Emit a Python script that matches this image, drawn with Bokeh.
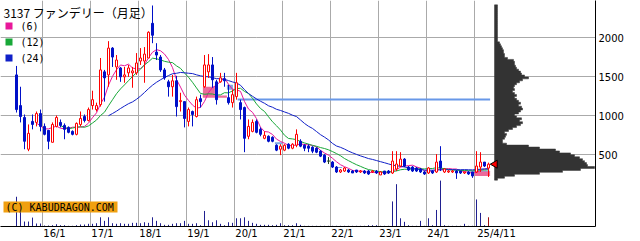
import numpy as np
import pandas as pd
from bokeh.plotting import figure
from bokeh.models import Range1d, FixedTicker, Label, BoxAnnotation
from bokeh.embed import file_html
from bokeh.resources import INLINE

# ---- data (monthly, from 2015/6 to 2025/4) ----
first_month = "2015-06"
opens = [1526,1132,979,572,929,916,1030,865,814,661,865,916,878,852,801,763,890,992,941,1132,
         1081,1145,1565,1526,1870,1628,1615,1501,1552,1552,1552,1704,1704,1743,2188,1819,1755,1590,1437,1374,
         1450,1183,1183,929,1056,992,1221,1374,1565,1654,1437,1437,1476,1234,1170,1247,1170,1107,738,801,
         929,827,712,738,725,623,572,560,636,585,623,674,623,611,598,585,547,496,420,407,
         343,280,292,305,292,305,280,292,292,280,292,242,292,292,267,318,356,445,343,343,
         331,318,280,267,292,280,420,280,280,280,292,292,267,280,280,280,343,407,330]
highs = [1641,1374,1018,890,1018,1056,1081,903,814,916,1005,954,903,865,814,916,1056,1018,1107,1323,
         1170,1743,1590,1959,1883,1781,1628,1628,1654,1628,1806,1870,1883,2086,2417,1933,1781,1615,1463,1526,
         1514,1297,1183,1107,1068,1247,1272,1781,1793,1755,1463,1552,1552,1399,1336,1552,1208,1119,954,954,
         954,852,801,750,738,636,636,636,649,649,827,700,636,636,611,598,560,509,471,420,
         356,318,343,318,305,305,305,305,305,305,305,292,292,305,547,547,534,458,356,356,
         343,331,292,343,305,509,611,331,305,305,305,292,280,292,280,547,534,407,400]
lows = [1043,916,572,547,827,865,801,750,572,661,852,852,700,776,750,750,865,916,929,1081,
        1056,1119,1183,1374,1628,1463,1437,1425,1501,1361,1526,1654,1425,1743,1933,1717,1565,1463,1247,1247,
        992,1056,852,865,865,979,1107,1361,1488,1361,1145,1425,1374,1145,1107,1208,954,534,700,789,
        776,738,700,661,661,547,496,547,572,572,598,598,547,534,521,521,471,394,382,331,
        267,267,280,267,267,267,267,254,242,267,254,242,242,254,254,292,343,343,292,280,
        280,267,242,254,254,267,292,267,267,267,191,254,254,242,204,267,280,343,216]
closes = [1081,992,674,776,890,1030,865,763,674,890,979,878,827,789,763,903,967,941,1081,1208,
          1132,1590,1488,1870,1755,1717,1501,1526,1615,1577,1679,1743,1793,2073,2035,1781,1590,1488,1374,1450,
          1119,1196,967,1081,1018,1208,1183,1654,1654,1463,1208,1488,1450,1170,1272,1425,1081,712,865,916,
          789,763,750,674,674,560,611,623,585,636,763,611,585,585,547,534,483,407,420,343,
          280,305,331,280,267,280,292,267,254,292,267,280,254,267,420,382,445,356,305,292,
          292,280,254,331,267,407,331,318,292,292,267,267,280,254,229,356,407,356,380]
volumes = [30,22,5,5,9,3,3,1,1,1.3,2.3,1.3,1.3,0.7,0.7,1.3,2,2,2.7,2.7,
           3.3,9.3,5.7,9.3,3.3,2.7,3.3,2.7,2.7,3.7,3.7,3.3,4.3,3.7,9.3,5.7,3.3,1.7,1.7,2.7,
           3.3,3.3,5.7,2.7,2.7,3.3,1.3,15.7,6.3,4.3,6.3,2.7,1.3,4.3,3.7,8.3,8.3,9.3,5.7,3.7,
           2.7,1.7,1.7,1.7,1.3,1.7,3.3,1.3,1.3,1.3,3.3,1.7,0.7,0.7,0.7,0.7,0.7,0.7,0.7,0.7,
           0.7,0.7,0.7,0.7,0.7,0.7,0.7,0.7,1.3,1.3,1.3,0.7,0.7,0.7,25.3,42.7,8.3,4.7,1.3,0.7,
           0.7,5.7,0.7,8.3,1.3,16.7,46.3,1.3,0.7,0.7,0.7,0.7,2.7,0.7,0.7,27.3,13.7,1.3,9.3]

# volume-by-price profile (25-yen bins starting at 175)
vp_vol = [3,10,20,45,68,86,100,93,92,90,
          88,85,80,76,65,61,45,34,12,8,
          8,10,11,12,10,14,18,22,26,28,
          25,27,22,20,24,26,28,27,24,26,
          24,22,20,22,20,18,20,19,20,22,
          25,28,34,30,27,26,24,22,21,20,
          20,19,13,10,10,9,9,8,7,6,
          5,3,3,3,3,3,3,3,3,3,3,3,3,3,3,3,3,3,3,3]

year_labels = ["16/1","17/1","18/1","19/1","20/1","21/1","22/1","23/1","24/1","25/4/11"]
price_ticks = [500, 1000, 1500, 2000]
ma_periods = [6, 12, 24]
ma_colors = ["#e8189a", "#18a838", "#1020c8"]

# gap windows / marks: (left month idx, right month idx, bottom price, top price, colour)
gap_left = [46.6, 46.6, 52.6, 64.6, 79.6, 114.6, 113.4]
gap_right = [49.6, 52.6, 54.1, 66.4, 81.4, 118.4, 118.4]
gap_bottom = [1247, 1234, 1336, 636, 331, 229, 285]
gap_top = [1374, 1260, 1399, 661, 343, 292, 296]
gap_color = ["#ec6a9a", "#ec6a9a", "#80a8e4", "#80a8e4", "#80a8e4", "#ec6a9a", "#80a8e4"]

res_price = 1210
res_from, res_to = 55.3, 118.4

# ---- build ----
n = len(opens)
months = pd.period_range(first_month, periods=n, freq="M")
x = np.arange(n)
o = np.array(opens, float); h = np.array(highs, float)
l = np.array(lows, float); c = np.array(closes, float)

p = figure(width=640, height=241, x_range=Range1d(-4.0, 144.75),
           y_range=Range1d(-420, 2481), output_backend="svg", toolbar_location=None,
           y_axis_location="right", min_border_left=0, min_border_top=0,
           min_border_right=45, min_border_bottom=13)
p.outline_line_color = None
p.background_fill_color = "white"
p.extra_y_ranges = {"vol": Range1d(0, 228)}
p.extra_x_ranges = {"vp": Range1d(-494, 101)}

grid_pos = [6.5 + 12 * k for k in range(10)]
tick_pos = [g + 3.0 for g in grid_pos[:-1]] + [grid_pos[-1] + 5.5]
p.xaxis.ticker = FixedTicker(ticks=tick_pos)
p.xaxis.major_label_overrides = {t: lab for t, lab in zip(tick_pos, year_labels)}
p.xgrid.ticker = FixedTicker(ticks=grid_pos)
p.yaxis.ticker = FixedTicker(ticks=price_ticks)
p.ygrid.ticker = FixedTicker(ticks=price_ticks)
for g in (p.xgrid, p.ygrid):
    g.grid_line_color = "#aaaaaa"
    g.grid_line_width = 1
for ax in (p.xaxis, p.yaxis):
    ax.axis_line_color = "black"
    ax.major_tick_out = 0
    ax.major_tick_in = 0
    ax.minor_tick_out = 0
    ax.minor_tick_in = 0
    ax.major_label_text_font = "DejaVu Sans"
    ax.major_label_text_font_size = "10px"
    ax.major_label_text_color = "black"
p.xaxis.major_label_standoff = 1
p.yaxis.major_label_standoff = 3

# gap boxes
p.quad(left=gap_left, right=gap_right, bottom=gap_bottom, top=gap_top,
       fill_color=gap_color, line_color=None)
# resistance line
p.segment(x0=[res_from], y0=[res_price], x1=[res_to], y1=[res_price],
          line_color="#6898e8", line_width=2)

# moving averages
cs = pd.Series(c)
for per, col in zip(ma_periods, ma_colors):
    ma = cs.rolling(per).mean()
    m = ma.notna().values
    p.line(x[m], ma.values[m], line_color=col, line_width=1)

# candles
up = c > o
dn = c < o
dj = c == o
p.segment(x0=x[up], y0=l[up], x1=x[up], y1=h[up], line_color="#ff0000", line_width=1)
p.segment(x0=x[dn], y0=l[dn], x1=x[dn], y1=h[dn], line_color="#0010c8", line_width=1)
p.segment(x0=x[dj], y0=l[dj], x1=x[dj], y1=h[dj], line_color="#204020", line_width=1)
p.vbar(x=x[up], bottom=o[up], top=c[up], width=0.5, fill_color="white",
       line_color="#ff0000", line_width=1)
p.vbar(x=x[dn], bottom=c[dn], top=o[dn], width=0.5, fill_color="#0010c8",
       line_color="#0010c8", line_width=1)
p.segment(x0=x[dj] - 0.4, y0=o[dj], x1=x[dj] + 0.4, y1=c[dj], line_color="#204020", line_width=1)

# volume
vcol = ["#202090"] * (n - 1) + ["#a01010"]
p.segment(x0=x, y0=np.zeros(n), x1=x, y1=volumes, line_color=vcol, line_width=1,
          y_range_name="vol")

# volume profile as one stepped polygon (no seams between bins)
bin_w = 25
vp_low = 175 + bin_w * np.arange(len(vp_vol))
px, py = [0.0], [float(vp_low[0])]
for lo, w in zip(vp_low, vp_vol):
    px += [w, w]
    py += [lo, lo + bin_w]
px.append(0.0)
py.append(float(vp_low[-1] + bin_w))
p.patch(px, py, x_range_name="vp", fill_color="#333333", line_color="#333333", line_width=0.5)

# current price marker
p.scatter(x=[n + 0.6], y=[c[-1]], marker="triangle", size=8, angle=np.pi / 2,
          fill_color="#ff0000", line_color="black", line_width=1)

# title and legend
p.add_layout(Label(x=3, y=214, x_units="screen", y_units="screen",
                   text="3137 ファンデリー（月足）", text_font="Noto Sans CJK JP",
                   text_font_size="12px", text_baseline="middle", text_color="black"))
for k, (per, col) in enumerate(zip(ma_periods, ma_colors)):
    top = 228 - (24 + 16 * k)
    p.add_layout(BoxAnnotation(left=5, right=12, top=top, bottom=top - 7,
                               left_units="screen", right_units="screen",
                               top_units="screen", bottom_units="screen",
                               fill_color=col, fill_alpha=1, line_color=None))
    p.add_layout(Label(x=20, y=top - 3.5, x_units="screen", y_units="screen",
                       text=f"({per})", text_font="DejaVu Sans Mono",
                       text_font_size="10px", text_baseline="middle", text_color="black"))

p.add_layout(BoxAnnotation(left=3, right=117, top=228 - 203, bottom=228 - 214,
                           left_units="screen", right_units="screen",
                           top_units="screen", bottom_units="screen",
                           fill_color="#f0a010", fill_alpha=1, line_color=None))
p.add_layout(Label(x=5, y=228 - 208.5, x_units="screen", y_units="screen",
                   text="(C) KABUDRAGON.COM", text_font="DejaVu Sans Mono",
                   text_font_size="10px", text_baseline="middle", text_color="black"))

open("out.html", "w").write(file_html(p, INLINE))
